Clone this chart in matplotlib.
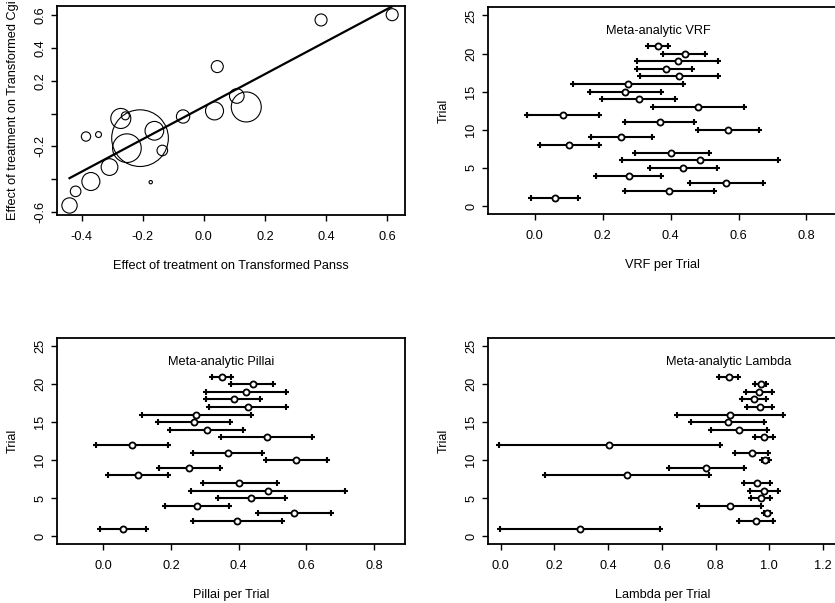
import numpy as np
import matplotlib
matplotlib.use('Agg')
import matplotlib.pyplot as plt

plt.rcParams['font.family'] = ['Liberation Sans', 'DejaVu Sans']

# ---------------- Panel 1: bubble plot ----------------
panss_effect = [-0.440, -0.420, -0.370, -0.309, -0.386, -0.345, -0.272, -0.257,
                -0.209, -0.252, -0.162, -0.136, -0.174, -0.068, 0.035, 0.044,
                0.108, 0.139, 0.384, 0.617]
cgi_effect = [-0.560, -0.474, -0.414, -0.326, -0.140, -0.128, -0.030, -0.014,
              -0.150, -0.211, -0.105, -0.225, -0.418, -0.018, 0.016, 0.286,
              0.107, 0.040, 0.570, 0.602]
trial_weight = [0.073, 0.035, 0.101, 0.087, 0.027, 0.011, 0.125, 0.020,
                1.000, 0.256, 0.109, 0.035, 0.0035, 0.055, 0.101, 0.045,
                0.067, 0.280, 0.045, 0.045]
fit_intercept = 0.042
fit_slope = 0.99

# ---------------- Forest plot data ----------------
trial_ids = list(range(1, 21))
meta_row = 21

vrf_est = [0.059, 0.396, 0.564, 0.277, 0.437, 0.486, 0.402, 0.102, 0.254, 0.570,
           0.368, 0.084, 0.482, 0.306, 0.267, 0.275, 0.426, 0.385, 0.421, 0.441]
vrf_lo = [-0.010, 0.265, 0.456, 0.181, 0.338, 0.258, 0.294, 0.014, 0.164, 0.480,
          0.265, -0.022, 0.347, 0.198, 0.161, 0.113, 0.311, 0.302, 0.302, 0.378]
vrf_hi = [0.126, 0.527, 0.673, 0.372, 0.537, 0.715, 0.512, 0.190, 0.344, 0.660,
          0.470, 0.190, 0.617, 0.413, 0.373, 0.437, 0.540, 0.464, 0.540, 0.501]
vrf_meta = [0.334, 0.363, 0.393]

pillai_est = list(vrf_est)
pillai_lo = list(vrf_lo)
pillai_hi = list(vrf_hi)
pillai_meta = [0.322, 0.349, 0.376]

lambda_est = [0.296, 0.951, 0.991, 0.855, 0.968, 0.981, 0.954, 0.471, 0.766, 0.984,
              0.936, 0.404, 0.980, 0.888, 0.845, 0.853, 0.964, 0.944, 0.962, 0.968]
lambda_lo = [-0.002, 0.886, 0.980, 0.740, 0.933, 0.928, 0.905, 0.167, 0.626, 0.971,
             0.874, -0.006, 0.947, 0.782, 0.710, 0.658, 0.917, 0.900, 0.914, 0.948]
lambda_hi = [0.595, 1.015, 1.003, 0.968, 1.002, 1.033, 1.004, 0.776, 0.906, 0.998,
             0.996, 0.816, 1.012, 0.993, 0.980, 1.050, 1.011, 0.989, 1.010, 0.988]
lambda_meta = [0.813, 0.849, 0.884]

W, H = 835, 603
fig = plt.figure(figsize=(W / 100, H / 100), dpi=100)

FS = 9.2
TICKLEN = 4.2


def add_axes(left, right, top, bottom):
    return fig.add_axes([left / W, (H - bottom) / H, (right - left) / W, (bottom - top) / H])


def style(ax):
    for s in ax.spines.values():
        s.set_linewidth(1.3)
    ax.tick_params(direction='out', length=TICKLEN, width=1.0, labelsize=FS)
    ax.tick_params(axis='x', pad=7.5)
    ax.tick_params(axis='y', labelrotation=90, pad=3.5)
    for lab in ax.get_yticklabels():
        lab.set_va('center')


# Panel 1
ax1 = add_axes(57, 405, 6, 215)
xs = np.array(panss_effect)
ys = np.array(cgi_effect)
w = np.array(trial_weight)
ax1.scatter(xs, ys, s=1665 * w, facecolors='none', edgecolors='black', linewidths=0.8)
xl = np.array([xs.min(), xs.max()])
ax1.plot(xl, fit_intercept + fit_slope * xl, color='black', lw=1.6)
ax1.set_xlim(-0.481, 0.659)
ax1.set_ylim(-0.618, 0.655)
ax1.set_xticks([-0.4, -0.2, 0.0, 0.2, 0.4, 0.6])
ax1.set_xticklabels(['-0.4', '-0.2', '0.0', '0.2', '0.4', '0.6'])
yt = [-0.6, -0.4, -0.2, 0.0, 0.2, 0.4, 0.6]
ax1.set_yticks(yt)
ax1.set_yticklabels(['-0.6', '', '-0.2', '', '0.2', '0.4', '0.6'])
ax1.set_xlabel('Effect of treatment on Transformed Panss', fontsize=FS, labelpad=12)
ax1.set_ylabel('Effect of treatment on Transformed Cgi', fontsize=FS, labelpad=11)
style(ax1)


def forest(ax, est, lo, hi, meta, label, xlabel, xlim, xticks):
    rows = np.array(trial_ids, dtype=float)
    allrows = np.append(rows, meta_row)
    allest = np.append(est, meta[1])
    alllo = np.append(lo, meta[0])
    allhi = np.append(hi, meta[2])
    ax.hlines(allrows, alllo, allhi, color='black', lw=1.5)
    ax.plot(alllo, allrows, '+', color='black', ms=4.5, mew=1.5)
    ax.plot(allhi, allrows, '+', color='black', ms=4.5, mew=1.5)
    ax.plot(allest, allrows, 'o', mfc='white', mec='black', ms=4.4, mew=1.3)
    ax.text(meta[1], 23, label, ha='center', va='center', fontsize=FS)
    ax.set_xlim(*xlim)
    ax.set_ylim(-1.04, 26.1)
    ax.set_xticks(xticks)
    ax.set_xticklabels(['%.1f' % t for t in xticks])
    ax.set_yticks([0, 5, 10, 15, 20, 25])
    ax.set_ylabel('Trial', fontsize=FS, labelpad=11)
    ax.set_xlabel(xlabel, fontsize=FS, labelpad=12)
    style(ax)


ax2 = add_axes(488, 837, 7, 214)
forest(ax2, vrf_est, vrf_lo, vrf_hi, vrf_meta, 'Meta-analytic VRF', 'VRF per Trial',
       (-0.138, 0.890), [0.0, 0.2, 0.4, 0.6, 0.8])

ax3 = add_axes(57, 405, 338, 544)
forest(ax3, pillai_est, pillai_lo, pillai_hi, pillai_meta, 'Meta-analytic Pillai',
       'Pillai per Trial', (-0.137, 0.891), [0.0, 0.2, 0.4, 0.6, 0.8])

ax4 = add_axes(488, 837, 338, 544)
forest(ax4, lambda_est, lambda_lo, lambda_hi, lambda_meta, 'Meta-analytic Lambda',
       'Lambda per Trial', (-0.047, 1.252), [0.0, 0.2, 0.4, 0.6, 0.8, 1.0, 1.2])

fig.savefig('out.png', dpi=100)
